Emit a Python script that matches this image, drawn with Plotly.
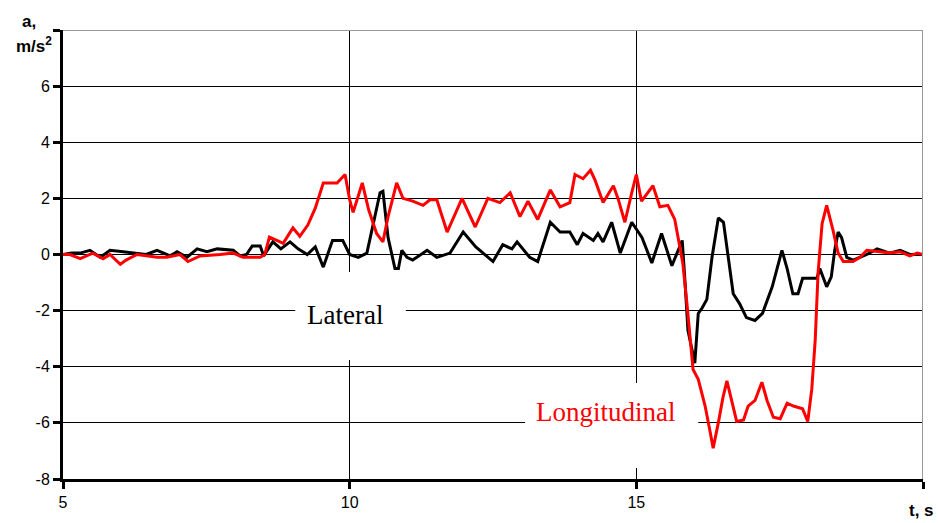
import plotly.graph_objects as go

# ---- data ----
lat_t = [5.0, 5.15, 5.3, 5.47, 5.65, 5.82, 6.05, 6.29, 6.45, 6.64,
         6.87, 6.99, 7.16, 7.34, 7.51, 7.69, 7.97, 8.09, 8.2, 8.3,
         8.44, 8.5, 8.66, 8.8, 8.96, 9.1, 9.26, 9.4, 9.54, 9.7,
         9.88, 10.0, 10.15, 10.3, 10.4, 10.53, 10.58, 10.67, 10.79, 10.85,
         10.91, 11.0, 11.1, 11.35, 11.52, 11.75, 11.98, 12.2, 12.5, 12.67,
         12.83, 12.92, 13.14, 13.28, 13.5, 13.67, 13.84, 13.97, 14.07, 14.25,
         14.33, 14.42, 14.57, 14.72, 14.92, 15.1, 15.27, 15.44, 15.62, 15.8,
         15.85, 15.9, 16.02, 16.08, 16.15, 16.23, 16.32, 16.43, 16.52, 16.6,
         16.69, 16.8, 16.92, 17.07, 17.2, 17.37, 17.54, 17.63, 17.73, 17.82,
         17.9, 18.03, 18.15, 18.2, 18.32, 18.4, 18.46, 18.52, 18.58, 18.67,
         18.78, 19.02, 19.2, 19.42, 19.6, 19.77, 20.0]
lat_a = [0.0, 0.05, 0.05, 0.15, -0.1, 0.15, 0.1, 0.05, 0.0, 0.15,
         -0.05, 0.1, -0.1, 0.2, 0.1, 0.2, 0.15, -0.05, 0.0, 0.3,
         0.3, -0.05, 0.45, 0.2, 0.45, 0.2, 0.0, 0.27, -0.45, 0.5,
         0.5, 0.0, -0.1, 0.05, 1.0, 2.2, 2.25, 0.6, -0.5, -0.5,
         0.15, -0.1, -0.2, 0.15, -0.1, 0.05, 0.8, 0.27, -0.25, 0.35,
         0.2, 0.45, -0.1, -0.25, 1.15, 0.8, 0.8, 0.35, 0.75, 0.5,
         0.75, 0.45, 1.15, 0.05, 1.15, 0.6, -0.3, 0.75, -0.4, 0.5,
         -1.0, -2.7, -3.87, -2.1, -1.9, -1.6, -0.1, 1.3, 1.15, -0.1,
         -1.4, -1.75, -2.25, -2.35, -2.1, -1.15, 0.15, -0.5, -1.4, -1.4,
         -0.85, -0.85, -0.85, -0.5, -1.15, -0.8, 0.15, 0.8, 0.6, -0.1,
         -0.2, 0.0, 0.2, 0.05, 0.15, 0.0, 0.0]

lon_t = [5.0, 5.12, 5.3, 5.52, 5.7, 5.82, 6.0, 6.1, 6.29, 6.64,
         6.81, 7.04, 7.18, 7.39, 7.74, 7.97, 8.14, 8.44, 8.52, 8.6,
         8.73, 8.84, 9.01, 9.13, 9.27, 9.4, 9.54, 9.78, 9.92, 10.0,
         10.06, 10.22, 10.33, 10.47, 10.58, 10.67, 10.82, 10.93, 11.1, 11.28,
         11.4, 11.52, 11.7, 11.96, 12.19, 12.41, 12.62, 12.8, 12.97, 13.11,
         13.28, 13.5, 13.67, 13.84, 13.93, 14.07, 14.2, 14.28, 14.42, 14.6,
         14.68, 14.8, 14.92, 15.0, 15.09, 15.29, 15.41, 15.55, 15.67, 15.73,
         15.81, 15.88, 15.94, 15.99, 16.08, 16.2, 16.29, 16.34, 16.43, 16.51,
         16.58, 16.67, 16.75, 16.87, 16.95, 17.07, 17.19, 17.28, 17.39, 17.51,
         17.63, 17.74, 17.9, 17.99, 18.06, 18.12, 18.17, 18.24, 18.32, 18.43,
         18.52, 18.61, 18.78, 18.9, 19.02, 19.25, 19.42, 19.6, 19.77, 19.9, 20.0]
lon_a = [0.0, 0.0, -0.15, 0.05, -0.15, 0.0, -0.35, -0.2, 0.0, -0.1,
         -0.1, 0.0, -0.25, -0.05, 0.0, 0.05, -0.1, -0.1, 0.0, 0.62,
         0.5, 0.4, 0.95, 0.65, 1.05, 1.65, 2.55, 2.55, 2.85, 1.95,
         1.5, 2.55, 1.6, 0.75, 0.45, 1.35, 2.55, 2.0, 1.9, 1.75,
         1.95, 1.95, 0.8, 2.0, 0.98, 2.0, 1.85, 2.2, 1.35, 1.9,
         1.25, 2.3, 1.7, 1.85, 2.85, 2.7, 3.0, 2.65, 1.85, 2.45,
         2.0, 1.15, 2.2, 2.85, 1.9, 2.45, 1.7, 1.75, 1.25, 0.63,
         -0.3, -1.7, -2.9, -4.1, -4.45, -5.4, -6.35, -6.9, -6.0, -5.1,
         -4.5, -5.3, -5.95, -5.9, -5.4, -5.2, -4.55, -5.2, -5.8, -5.85,
         -5.3, -5.4, -5.5, -5.95, -4.8, -3.05, -0.65, 1.1, 1.75, 0.87,
         0.05, -0.25, -0.25, -0.1, 0.15, 0.1, 0.05, 0.1, -0.05, 0.05, 0.0]

x_ticks = [5, 10, 15]
x_ticklabels = ["5", "10", "15"]
x_end_tick = [20]
y_ticks = [-8, -6, -4, -2, 0, 2, 4, 6]
y_ticklabels = ["-8", "-6", "-4", "-2", "0", "2", "4", "6"]
y_end_tick = [8]

assert len(lat_t) == len(lat_a) and len(lon_t) == len(lon_a)

fig = go.Figure()
fig.add_trace(go.Scatter(x=lat_t, y=lat_a, mode="lines", name="Lateral",
                         line=dict(color="black", width=3)))
fig.add_trace(go.Scatter(x=lon_t, y=lon_a, mode="lines", name="Longitudinal",
                         line=dict(color="#ff0000", width=3)))

tickfont = dict(family="Arial, Liberation Sans, sans-serif", size=16, color="black")
common = dict(showgrid=True, gridcolor="black", gridwidth=1,
              showline=True, linecolor="black", linewidth=3,
              ticks="outside", ticklen=7, tickwidth=3, tickcolor="black",
              zeroline=False, tickfont=tickfont)
fig.update_layout(
    width=938, height=523,
    margin=dict(l=63, r=15, t=30, b=44),
    plot_bgcolor="white", paper_bgcolor="white",
    showlegend=False,
    xaxis=dict(range=[5, 20], tickvals=x_ticks, ticktext=x_ticklabels,
               minor=dict(tickmode="array", tickvals=x_end_tick, ticks="outside",
                          ticklen=7, tickwidth=3, tickcolor="black", showgrid=False),
               **common),
    yaxis=dict(range=[-8, 8], tickvals=y_ticks, ticktext=y_ticklabels,
               minor=dict(tickmode="array", tickvals=y_end_tick, ticks="outside",
                          ticklen=7, tickwidth=3, tickcolor="black", showgrid=False),
               **common),
)

# grey top and right frame lines
fig.add_shape(type="line", xref="x", yref="y", x0=5, x1=20, y0=8, y1=8,
              line=dict(color="#999999", width=2), layer="above")
fig.add_shape(type="line", xref="x", yref="y", x0=20, x1=20, y0=-8, y1=8,
              line=dict(color="#999999", width=2), layer="above")

# white boxes behind the series labels (hide gridlines)
fig.add_shape(type="rect", xref="x", yref="y", x0=9.05, x1=10.98, y0=-3.76, y1=-0.62,
              fillcolor="white", line=dict(width=0), layer="between")
fig.add_shape(type="rect", xref="x", yref="y", x0=13.06, x1=16.08, y0=-7.61, y1=-4.58,
              fillcolor="white", line=dict(width=0), layer="between")

serif = "Times New Roman, Liberation Serif, serif"
fig.add_annotation(x=9.92, y=-2.15, xref="x", yref="y", text="Lateral", showarrow=False,
                   font=dict(family=serif, size=27, color="black"))
fig.add_annotation(x=14.47, y=-5.6, xref="x", yref="y", text="Longitudinal", showarrow=False,
                   font=dict(family=serif, size=27, color="#ff0000"))

bold = dict(family="Arial, Liberation Sans, sans-serif", size=17, color="black")
fig.add_annotation(x=-0.040, y=1.020, xref="paper", yref="paper", text="<b>a,</b>",
                   showarrow=False, font=bold, xanchor="center", yanchor="middle")
fig.add_annotation(x=-0.034, y=0.966, xref="paper", yref="paper", text="<b>m/s<sup>2</sup></b>",
                   showarrow=False, font=bold, xanchor="center", yanchor="middle")
fig.add_annotation(x=0.998, y=-0.070, xref="paper", yref="paper", text="<b>t, s</b>",
                   showarrow=False, font=bold, xanchor="center", yanchor="middle")

fig.write_html("out.html")
